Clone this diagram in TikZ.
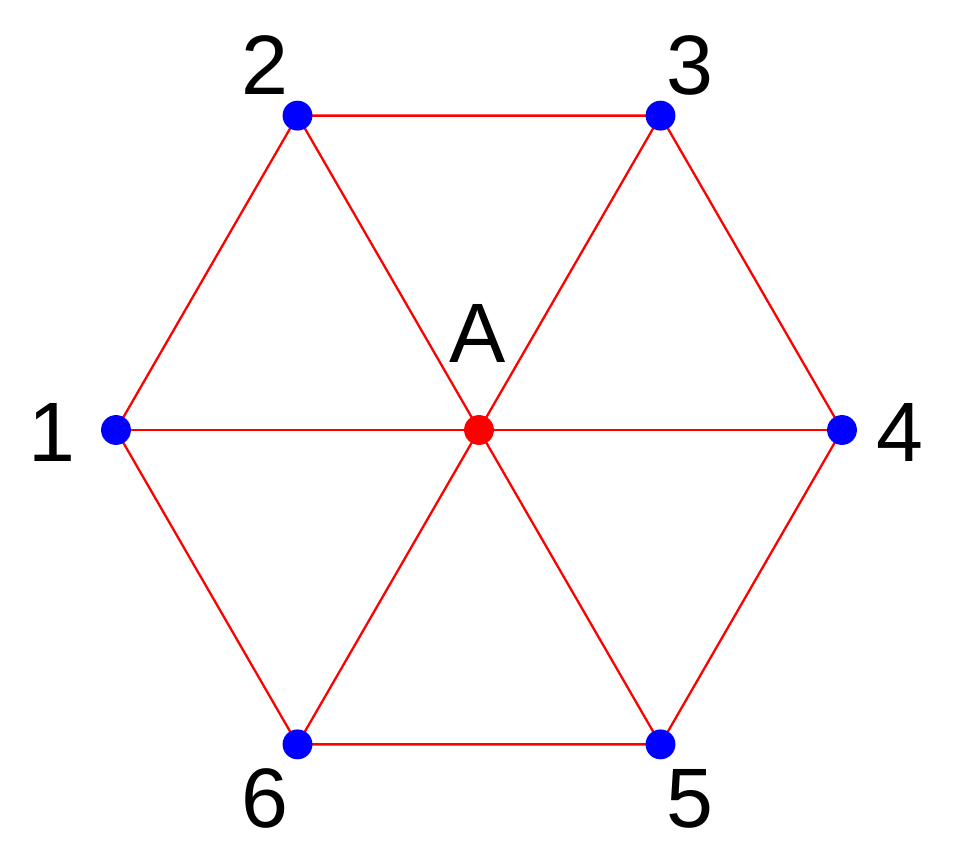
\documentclass[tikz,border=0pt]{standalone}
\usepackage{fontspec}
\setmainfont{Liberation Sans}
\usepackage{tikz}
\usetikzlibrary{calc}

\begin{document}
\begin{tikzpicture}[x=0.02cm, y=0.02cm,
    edge/.style={red, line width=1.3pt},
    dot/.style={fill=blue},
    lbl/.style={anchor=base, inner sep=0pt, font=\fontsize{48}{50}\selectfont}]
            \useasboundingbox (0,0) rectangle (965,860);
            
            % Tâm và sáu đỉnh lục giác
            \coordinate (A) at (479,430);
            \foreach \i/\ang in {1/180, 2/120, 3/60, 4/0, 5/-60, 6/-120}
                \coordinate (P\i) at ($(A)+(\ang:363)$);
            
            % Các cạnh lục giác
            \draw[edge] (P1) -- (P2) -- (P3) -- (P4) -- (P5) -- (P6) -- cycle;
            
            % Nối tâm A với các đỉnh
            \draw[edge] (P1) -- (P4);
            \draw[edge] (P2) -- (P5);
            \draw[edge] (P3) -- (P6);
            
            % Các điểm
            \foreach \i in {1,...,6}
                \fill[dot] (P\i) circle (8.5pt);
            \fill[red] (A) circle (8.5pt);
            
            % Nhãn
            \node[lbl] (lA) at (478,497) {A};
            \node[lbl] (l1) at (52,398) {1};
            \node[lbl] (l2) at (265,765) {2};
            \node[lbl] (l3) at (690,765) {3};
            \node[lbl] (l4) at (900,398) {4};
            \node[lbl] (l5) at (690,32) {5};
            \node[lbl] (l6) at (265,32) {6};
        \end{tikzpicture}
\end{document}
